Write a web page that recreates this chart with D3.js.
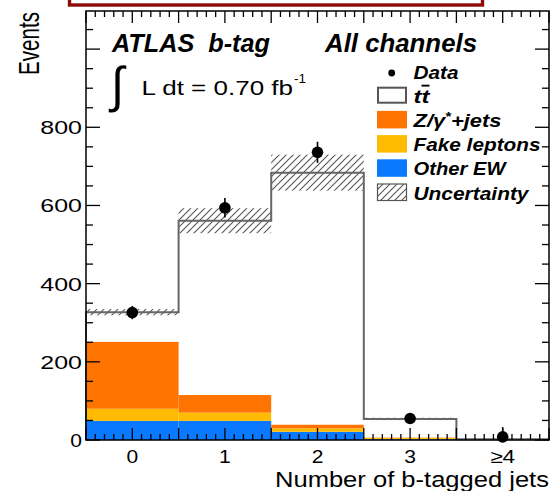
<!DOCTYPE html>
<html>
<head>
<meta charset="utf-8">
<script src="https://cdn.jsdelivr.net/npm/d3@7"></script>
<style>
  html, body { margin: 0; padding: 0; background: #fff; }
  svg { display: block; }
  text { font-family: "Liberation Sans", Arial, Helvetica, sans-serif; white-space: pre; }
</style>
</head>
<body>
<svg id="chart" width="551" height="491"></svg>
<script>
// Number of b-tagged jets, events per bin
const categories = ["0", "1", "2", "3", "\u22654"];
const otherEW     = [49, 49, 21, 2, 0.3];
const fakeLeptons = [31, 21, 9, 3, 0.2];
const zJets       = [171, 45, 9, 1, 0.1];
const ttbar       = [76, 446, 645, 48, 1.4];
const mcUncertainty = [8, 32, 46, 3, 1];
const dataValues  = [326, 594, 736, 55, 8];
const dataErrors  = [17, 25, 27, 7, 25];
const yTickLabels = [0, 200, 400, 600, 800];

const seriesKeys = ["otherEW", "fakeLeptons", "zJets", "ttbar"];
const seriesColor = {
  otherEW: "#0a78ff",
  fakeLeptons: "#ffbb00",
  zJets: "#ff7400",
  ttbar: "#ffffff"
};

const rows = categories.map((c, i) => ({
  idx: i, cat: c,
  otherEW: otherEW[i], fakeLeptons: fakeLeptons[i], zJets: zJets[i], ttbar: ttbar[i]
}));

const svg = d3.select("#chart");
const plotLeft = 86, plotRight = 549, plotTop = 11, plotBottom = 440;

const x = d3.scaleLinear().domain([-0.5, 4.5]).range([plotLeft, plotRight]);
const y = d3.scaleLinear().domain([0, 1097.5]).range([plotBottom, plotTop]);

// hatch pattern for the MC uncertainty
const defs = svg.append("defs");
const pat = defs.append("pattern")
  .attr("id", "hatch").attr("patternUnits", "userSpaceOnUse")
  .attr("width", 7).attr("height", 7);
pat.append("path").attr("d", "M0,7 L7,0 M-1,1 L1,-1 M6,8 L8,6")
  .attr("stroke", "#555").attr("stroke-width", 1.1);

// red banner outline at the top
svg.append("rect").attr("x", 69.5).attr("y", -20).attr("width", 413).attr("height", 25)
  .attr("fill", "none").attr("stroke", "#8c0b0b").attr("stroke-width", 3.4);

// stacked histograms
const stack = d3.stack().keys(seriesKeys)(rows);
const plot = svg.append("g");
stack.forEach(layer => {
  if (layer.key === "ttbar") return;
  plot.selectAll(null).data(layer).enter().append("rect")
    .attr("x", d => x(d.data.idx - 0.5))
    .attr("width", d => x(d.data.idx + 0.5) - x(d.data.idx - 0.5))
    .attr("y", d => y(d[1]))
    .attr("height", d => Math.max(0, y(d[0]) - y(d[1])))
    .attr("fill", seriesColor[layer.key]);
});

// uncertainty band around the total prediction
const totalLayer = stack[stack.length - 1];
plot.selectAll(null).data(totalLayer).enter().append("rect")
  .attr("x", d => x(d.data.idx - 0.5))
  .attr("width", d => x(d.data.idx + 0.5) - x(d.data.idx - 0.5))
  .attr("y", (d, i) => y(d[1] + mcUncertainty[i]))
  .attr("height", (d, i) => y(Math.max(0, d[1] - mcUncertainty[i])) - y(d[1] + mcUncertainty[i]))
  .attr("fill", "url(#hatch)");

// ttbar outline (step line of the stack total)
const stepPts = [];
totalLayer.forEach(d => {
  stepPts.push([d.data.idx - 0.5, d[1]]);
  stepPts.push([d.data.idx + 0.5, d[1]]);
});
const stepPath = [[-0.5, 0], ...stepPts, [4.5, 0]];
plot.append("path")
  .attr("d", d3.line().x(p => x(p[0])).y(p => y(p[1]))(stepPath))
  .attr("fill", "none").attr("stroke", "#666").attr("stroke-width", 2);

// data with error bars
const dataG = svg.append("g");
dataValues.forEach((v, i) => {
  dataG.append("line")
    .attr("x1", x(i)).attr("x2", x(i))
    .attr("y1", y(v + dataErrors[i])).attr("y2", y(Math.max(0, v - dataErrors[i])))
    .attr("stroke", "#000").attr("stroke-width", 1.6);
  dataG.append("circle").attr("cx", x(i)).attr("cy", y(v)).attr("r", 5.8).attr("fill", "#000");
});

// axes and frame
const axG = svg.append("g").attr("stroke", "#000").attr("stroke-width", 1.3);
const xMinor = d3.range(-5, 46).map(k => k / 10);
xMinor.forEach(v => {
  const major = Math.abs(v * 2 - Math.round(v * 2)) < 1e-6;
  const len = major ? 12 : 6;
  axG.append("line").attr("x1", x(v)).attr("x2", x(v)).attr("y1", plotBottom).attr("y2", plotBottom - len);
  axG.append("line").attr("x1", x(v)).attr("x2", x(v)).attr("y1", plotTop).attr("y2", plotTop + len);
});
const yMinor = d3.range(0, 1097, 50);
yMinor.forEach(v => {
  const len = v % 200 === 0 ? 14 : 7;
  axG.append("line").attr("x1", plotLeft).attr("x2", plotLeft + len).attr("y1", y(v)).attr("y2", y(v));
  axG.append("line").attr("x1", plotRight).attr("x2", plotRight - len).attr("y1", y(v)).attr("y2", y(v));
});
svg.append("rect").attr("x", plotLeft).attr("y", plotTop)
  .attr("width", plotRight - plotLeft).attr("height", plotBottom - plotTop)
  .attr("fill", "none").attr("stroke", "#000").attr("stroke-width", 1.5);

// text helper
function label(px, py, str, o) {
  const t = svg.append("text").attr("x", px).attr("y", py)
    .attr("font-size", o.size)
    .attr("font-weight", o.weight || "normal")
    .attr("font-style", o.style || "normal")
    .attr("text-anchor", o.anchor || "start")
    .attr("fill", "#000")
    .text(str);
  if (o.len) t.attr("textLength", o.len).attr("lengthAdjust", "spacingAndGlyphs");
  return t;
}

// tick labels
yTickLabels.forEach(v => {
  const s = String(v);
  label(82, y(v) + 7, s, { size: 18.5, anchor: "end", len: 15 * s.length - 3.3 });
});
categories.forEach((c, i) => {
  label(x(i), 463, c, { size: 18.5, anchor: "middle", len: c.length > 1 ? 25 : 11.7 });
});

// axis titles
label(549, 486.5, "Number of b-tagged jets", { size: 22, anchor: "end", len: 274 });
svg.append("text")
  .attr("transform", "translate(39,12) rotate(-90) scale(1,1.4)")
  .attr("font-size", 20.6).attr("text-anchor", "end")
  .text("Events");

// labels inside the frame
label(112, 52, "ATLAS\u00A0 b-tag", { size: 25, weight: "bold", style: "italic", len: 158 });
label(325, 52, "All channels", { size: 25, weight: "bold", style: "italic", len: 152 });
svg.append("text").attr("x", 111).attr("y", 102)
  .attr("font-family", "DejaVu Sans").attr("font-size", 50)
  .attr("textLength", 13).attr("lengthAdjust", "spacingAndGlyphs")
  .text("\u222B");
label(141.5, 95, "L dt = 0.70 fb", { size: 19.5, len: 151.5 });
label(294, 83, "-1", { size: 12.5, len: 12 });

// legend
const legX = 377, legTextX = 413.5;
const legRows = [
  { kind: "data", text: "Data", len: 45 },
  { kind: "ttbar", text: null, len: 16 },
  { kind: "zJets", text: null, len: 88 },
  { kind: "fakeLeptons", text: "Fake leptons", len: 127 },
  { kind: "otherEW", text: "Other EW", len: 92 },
  { kind: "unc", text: "Uncertainty", len: 115 }
];
legRows.forEach((r, i) => {
  const by = 78.5 + 24.2 * i;
  if (r.kind === "data") {
    svg.append("circle").attr("cx", 391.7).attr("cy", by - 5.5).attr("r", 3.4).attr("fill", "#000");
  } else if (r.kind === "ttbar") {
    svg.append("rect").attr("x", legX + 1).attr("y", by - 15).attr("width", 28).attr("height", 15)
      .attr("fill", "#fff").attr("stroke", "#555").attr("stroke-width", 2);
  } else if (r.kind === "unc") {
    svg.append("rect").attr("x", legX + 0.5).attr("y", by - 15.5).attr("width", 29).attr("height", 16.5)
      .attr("fill", "url(#hatch)").attr("stroke", "#555").attr("stroke-width", 1.2);
  } else {
    svg.append("rect").attr("x", legX).attr("y", by - 16).attr("width", 30).attr("height", 17.5)
      .attr("fill", seriesColor[r.kind]);
  }
  const opts = { size: 19, weight: "bold", style: "italic", len: r.len };
  if (r.kind === "ttbar") {
    const t = label(legTextX, by, "", opts);
    t.append("tspan").text("t");
    t.append("tspan").style("text-decoration", "overline").text("t");
  } else if (r.kind === "zJets") {
    const t = label(legTextX, by, "", opts);
    t.append("tspan").text("Z/\u03B3");
    t.append("tspan").attr("dy", -6).attr("font-size", 13).text("*");
    t.append("tspan").attr("dy", 6).text("+jets");
  } else {
    label(legTextX, by, r.text, opts);
  }
});
</script>
</body>
</html>
